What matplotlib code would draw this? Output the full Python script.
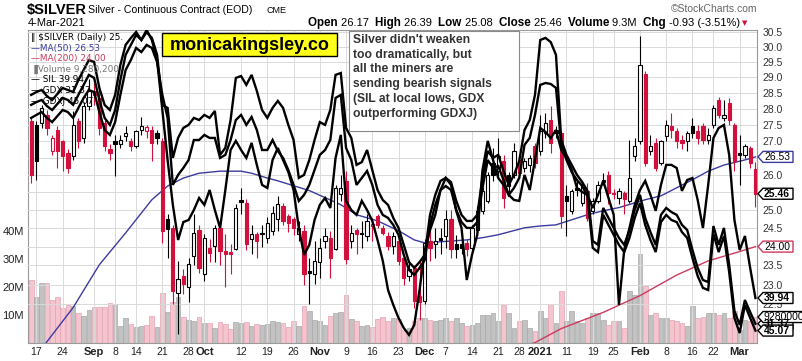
import numpy as np
import pandas as pd
import matplotlib
matplotlib.use("Agg")
import matplotlib.pyplot as plt
from matplotlib.patches import Rectangle, Polygon
from matplotlib.transforms import IdentityTransform
from matplotlib.ticker import NullLocator

W, H = 803, 361

# ---- data -------------------------------------------------------------
holidays = ["2020-09-07", "2020-11-26", "2020-12-25", "2021-01-01", "2021-01-18", "2021-02-15"]
dates = pd.bdate_range("2020-08-14", "2021-03-04")
dates = dates[~dates.isin(pd.to_datetime(holidays))]

opens = [27.61, 27.50, 27.55, 27.81, 26.70, 27.35, 26.99, 26.65, 26.55, 27.61,
         27.10, 28.07, 28.55, 28.33, 27.55, 26.75, 26.99, 26.90, 27.15, 26.99,
         26.85, 27.35, 27.30, 27.35, 27.25, 26.99, 24.75, 24.51, 22.80, 23.22,
         22.93, 23.75, 24.46, 23.27, 23.97, 24.02, 24.51, 23.88, 23.86, 23.93,
         25.27, 25.20, 24.20, 24.33, 24.38, 24.24, 24.42, 24.74, 25.11, 24.83,
         24.74, 24.33, 24.42, 23.35, 23.27, 23.58, 24.15, 24.24, 23.93, 25.44,
         25.82, 24.15, 24.46, 24.36, 24.28, 24.55, 24.83, 24.51, 24.28, 24.01,
         24.15, 23.70, 23.22, 23.44, 22.72, 22.59, 24.15, 24.06, 24.22, 24.28,
         24.74, 24.06, 24.06, 24.10, 23.97, 24.46, 24.97, 25.25, 26.35, 26.11,
         26.40, 26.01, 26.00, 26.45, 26.21, 26.30, 26.85, 26.70, 27.25, 27.66,
         27.35, 27.25, 25.39, 24.97, 25.63, 25.20, 25.53, 24.97, 25.25, 25.86,
         26.01, 25.49, 25.35, 25.49, 25.25, 26.55, 27.00, 29.10, 26.70, 26.95,
         26.35, 27.15, 27.45, 27.30, 27.05, 26.99, 27.45, 27.30, 27.45, 27.05,
         27.50, 28.28, 27.71, 28.18, 27.50, 26.65, 26.60, 26.80, 26.17]
highs = [27.71, 27.60, 28.10, 27.95, 27.20, 27.45, 27.05, 26.75, 27.92, 27.70,
         28.20, 28.95, 28.90, 28.60, 27.65, 26.90, 27.20, 27.20, 27.45, 27.10,
         27.35, 27.75, 27.50, 27.45, 27.35, 27.10, 24.90, 24.60, 23.62, 23.40,
         23.70, 24.88, 24.60, 24.35, 24.20, 24.60, 24.60, 24.33, 24.06, 25.16,
         25.63, 25.30, 24.60, 24.40, 24.60, 24.80, 25.10, 25.40, 25.20, 24.90,
         24.80, 24.70, 24.60, 23.70, 24.15, 24.24, 24.51, 24.42, 25.70, 26.01,
         26.11, 24.60, 24.51, 24.70, 24.88, 24.79, 24.90, 24.60, 24.40, 24.40,
         24.30, 23.80, 23.60, 23.50, 23.62, 24.20, 24.51, 24.51, 24.51, 25.00,
         25.00, 24.30, 24.20, 24.20, 24.60, 25.10, 25.65, 26.10, 26.80, 27.10,
         26.60, 26.10, 26.95, 26.60, 26.50, 26.60, 26.95, 27.81, 27.86, 28.07,
         27.45, 27.30, 25.72, 25.60, 25.82, 25.80, 25.77, 25.35, 25.82, 26.06,
         26.11, 25.60, 25.63, 25.53, 27.05, 27.10, 30.35, 29.20, 27.20, 27.10,
         27.05, 27.66, 27.86, 27.40, 27.20, 27.30, 27.71, 27.50, 27.55, 27.40,
         28.12, 28.38, 28.28, 28.33, 27.55, 27.20, 26.90, 26.85, 26.39]
lows = [25.77, 25.86, 27.40, 27.20, 26.60, 26.21, 26.11, 26.06, 26.45, 26.80,
        26.95, 27.95, 28.10, 27.20, 26.70, 26.45, 25.96, 26.80, 27.00, 26.70,
        26.80, 27.20, 27.10, 26.40, 26.90, 24.10, 23.70, 22.50, 21.77, 22.75,
        22.55, 23.50, 23.30, 23.10, 23.60, 23.60, 23.50, 22.93, 23.27, 23.90,
        24.88, 23.90, 23.80, 23.70, 24.00, 24.10, 24.30, 24.42, 24.60, 24.40,
        24.30, 24.15, 23.00, 22.51, 23.01, 23.18, 23.97, 23.18, 23.90, 25.25,
        23.53, 23.97, 23.79, 23.97, 24.15, 24.15, 24.50, 24.30, 23.90, 23.80,
        23.50, 23.00, 23.10, 22.40, 22.10, 22.50, 23.62, 23.70, 23.79, 23.97,
        23.70, 23.70, 23.80, 23.75, 23.90, 24.40, 24.90, 25.20, 25.82, 25.90,
        25.07, 25.50, 25.90, 25.95, 26.10, 26.10, 26.20, 26.60, 27.10, 26.65,
        27.10, 24.50, 24.28, 24.90, 25.40, 25.10, 24.70, 24.90, 25.20, 25.70,
        25.16, 25.30, 25.16, 24.88, 25.20, 26.40, 26.90, 26.25, 26.60, 26.11,
        26.30, 27.00, 27.10, 26.80, 26.75, 26.70, 27.10, 26.90, 26.90, 26.90,
        27.40, 27.70, 27.60, 27.50, 26.11, 25.72, 26.50, 26.20, 25.08]
closes = [26.01, 26.40, 28.02, 27.40, 27.10, 26.70, 26.55, 26.21, 27.50, 26.99,
          28.07, 28.55, 28.44, 27.40, 26.85, 26.65, 26.90, 27.05, 27.25, 26.85,
          27.30, 27.45, 27.42, 26.95, 27.10, 24.42, 24.47, 22.84, 23.14, 23.01,
          23.53, 24.38, 23.44, 24.24, 23.84, 24.51, 23.88, 23.80, 23.79, 25.07,
          25.22, 24.06, 24.33, 24.15, 24.33, 24.65, 24.93, 25.16, 24.70, 24.65,
          24.51, 24.51, 23.27, 23.30, 23.62, 23.97, 24.28, 23.70, 25.63, 25.63,
          23.66, 24.38, 24.33, 24.34, 24.70, 24.62, 24.60, 24.38, 24.01, 24.28,
          23.62, 23.18, 23.40, 22.59, 22.55, 24.10, 23.97, 24.15, 24.18, 24.74,
          23.93, 23.93, 23.97, 23.93, 24.51, 24.97, 25.53, 26.01, 26.01, 26.55,
          25.35, 25.67, 26.70, 26.06, 26.40, 26.50, 26.35, 27.30, 27.55, 26.95,
          27.25, 24.83, 25.25, 25.53, 25.58, 25.72, 24.79, 25.25, 25.72, 25.80,
          25.49, 25.44, 25.53, 25.30, 25.91, 26.85, 29.40, 26.35, 26.85, 26.21,
          26.99, 27.50, 27.35, 26.99, 26.95, 27.25, 27.25, 27.10, 27.05, 27.20,
          28.02, 27.81, 27.81, 27.66, 26.40, 26.60, 26.85, 26.35, 25.46]
volume_m = [22.5, 16.5, 21.3, 21.3, 15.2, 16.3, 12.4, 13.6, 13.2, 10.6,
            9.6, 11.8, 13.0, 12.7, 12.7, 14.4, 14.0, 6.1, 8.8, 6.8,
            5.6, 6.1, 6.4, 9.8, 5.8, 18.0, 11.0, 14.8, 16.3, 9.4,
            8.2, 8.0, 9.4, 7.3, 7.1, 5.3, 7.6, 6.8, 4.9, 7.6,
            7.3, 7.6, 6.1, 6.8, 6.4, 6.8, 8.0, 7.6, 7.0, 5.6,
            7.7, 6.0, 13.1, 11.3, 8.3, 7.7, 6.5, 9.5, 10.7, 11.0,
            17.3, 8.5, 7.7, 6.0, 6.5, 5.6, 8.5, 9.2, 7.7, 8.8,
            8.5, 4.8, 5.4, 7.7, 8.8, 8.8, 8.3, 7.7, 8.3, 8.8,
            7.7, 8.8, 7.1, 6.0, 6.5, 7.1, 10.1, 10.1, 10.7, 7.7,
            13.7, 10.7, 5.4, 7.7, 8.3, 5.4, 4.2, 11.3, 8.8, 13.9,
            7.1, 18.4, 7.7, 11.3, 7.7, 7.1, 8.8, 10.7, 10.7, 8.3,
            6.5, 7.7, 7.7, 5.4, 18.4, 17.3, 31.9, 20.2, 10.1, 10.7,
            8.8, 8.8, 8.3, 7.7, 7.1, 6.0, 13.1, 8.8, 9.4, 10.7,
            10.7, 10.1, 10.7, 8.8, 11.3, 4.8, 8.3, 7.7, 9.28]

ma50_idx = [0, 3, 8, 13, 18, 23, 26, 29, 32, 36, 40, 42, 45, 47, 53, 56, 59, 62, 66, 70,
            73, 75, 80, 83, 86, 89, 94, 97, 100, 103, 106, 109, 112, 117, 120, 123, 126,
            129, 132, 136, 138]
ma50_val = [21.0, 21.58, 22.42, 23.52, 24.37, 25.29, 25.68, 25.91, 26.05, 26.11, 26.11,
            26.05, 25.91, 25.83, 25.55, 25.35, 25.15, 24.87, 24.70, 24.43, 24.18, 24.10,
            24.15, 24.18, 24.24, 24.32, 24.51, 24.56, 24.59, 24.73, 24.87, 24.98, 25.07,
            25.29, 25.40, 25.63, 25.86, 26.11, 26.29, 26.44, 26.53]
ma200_idx = [92, 96, 101, 109, 116, 123, 129, 136, 138]
ma200_val = [21.40, 21.56, 21.90, 22.30, 22.72, 23.25, 23.62, 23.91, 24.00]

# overlays: daily closes, one value per trading day
sil = [49.08, 49.21, 49.30, 49.03, 48.85, 49.12, 49.39, 49.30, 49.21, 49.75,
       50.20, 50.65, 50.56, 49.39, 48.63, 48.40, 49.08, 50.43, 51.33, 51.64,
       51.91, 51.55, 52.00, 51.55, 50.65, 48.40, 46.15, 44.13, 42.55, 43.36,
       43.45, 43.90, 44.44, 44.13, 44.80, 43.90, 43.09, 44.80, 46.60, 47.01,
       46.60, 46.24, 46.92, 45.93, 45.03, 44.89, 46.15, 46.69, 46.15, 45.61,
       44.80, 43.09, 41.88, 42.33, 43.45, 44.13, 44.44, 43.99, 46.24, 47.28,
       44.31, 43.90, 43.68, 44.31, 43.90, 43.41, 42.55, 41.61, 40.30, 39.63,
       39.04, 38.59, 38.28, 38.73, 40.30, 42.10, 43.00, 43.68, 44.80, 45.34,
       45.03, 43.86, 43.09, 40.75, 41.88, 42.78, 45.70, 47.01, 46.15, 45.34,
       45.03, 44.58, 44.35, 44.31, 45.48, 44.80, 46.15, 47.59, 47.41, 47.14,
       47.50, 46.60, 46.24, 45.70, 44.89, 44.71, 44.58, 43.99, 44.58, 45.21,
       44.44, 43.68, 39.63, 42.10, 43.09, 44.13, 44.80, 45.21, 44.58, 43.86,
       45.03, 45.93, 45.93, 45.79, 44.76, 45.25, 45.34, 44.35, 43.09, 45.03,
       47.14, 47.59, 47.73, 46.38, 43.45, 42.10, 42.73, 41.29, 39.94]
gdx = [40.78, 40.90, 40.99, 40.73, 40.56, 40.82, 41.08, 40.99, 40.78, 41.21,
       41.64, 42.07, 41.94, 40.99, 40.22, 39.92, 40.56, 41.85, 42.93, 43.36,
       43.79, 43.57, 43.91, 43.66, 42.93, 40.78, 40.65, 38.50, 39.36, 39.79,
       39.92, 40.22, 40.13, 40.35, 40.22, 40.52, 38.63, 38.93, 40.13, 41.94,
       42.02, 41.64, 42.07, 41.38, 40.56, 40.22, 40.65, 40.95, 40.65, 39.92,
       39.27, 37.64, 37.77, 38.41, 39.27, 40.04, 39.92, 40.56, 42.07, 42.15,
       39.79, 39.36, 38.20, 38.32, 38.84, 37.98, 37.12, 36.69, 36.48, 35.92,
       35.49, 34.76, 34.02, 33.77, 34.02, 34.33, 36.05, 36.91, 37.51, 37.64,
       37.46, 36.65, 36.05, 35.79, 35.79, 36.05, 37.64, 38.80, 38.50, 38.63,
       37.94, 37.34, 37.77, 38.37, 39.70, 40.13, 41.21, 43.57, 43.66, 43.48,
       42.93, 39.27, 38.63, 38.20, 37.77, 37.46, 37.08, 34.93, 34.76, 36.35,
       35.92, 35.49, 35.06, 34.76, 35.40, 36.26, 36.91, 35.92, 35.31, 34.76,
       36.05, 36.35, 36.17, 36.05, 35.62, 35.40, 34.54, 33.77, 33.25, 33.16,
       35.57, 34.76, 35.49, 33.90, 31.92, 31.32, 32.39, 31.87, 31.37]
gdxj = [56.34, 56.50, 56.65, 56.34, 56.12, 56.44, 56.76, 56.65, 56.34, 56.87,
        57.40, 57.82, 57.71, 56.65, 55.70, 55.44, 56.12, 57.56, 58.88, 59.41,
        60.05, 59.83, 60.21, 60.05, 59.30, 57.56, 56.34, 52.79, 53.32, 53.69,
        54.11, 55.17, 55.17, 55.44, 55.28, 55.28, 54.22, 54.38, 55.17, 56.23,
        56.50, 55.97, 56.39, 55.70, 54.64, 54.64, 55.17, 54.59, 54.22, 53.58,
        52.79, 51.94, 52.26, 52.79, 53.58, 54.38, 54.64, 55.17, 57.40, 57.56,
        54.75, 54.11, 52.79, 53.16, 53.53, 52.79, 51.73, 51.20, 51.04, 50.67,
        50.14, 49.08, 48.28, 48.02, 48.39, 48.81, 50.67, 51.73, 52.52, 52.73,
        52.52, 51.46, 50.82, 50.51, 50.51, 50.82, 52.63, 54.11, 53.69, 53.79,
        53.05, 52.26, 52.63, 53.16, 54.91, 55.28, 56.50, 58.09, 58.19, 58.14,
        57.93, 54.91, 54.11, 53.47, 53.05, 52.73, 52.20, 49.45, 49.23, 51.20,
        50.67, 50.14, 49.61, 49.23, 49.98, 51.04, 51.83, 50.67, 49.87, 49.23,
        50.82, 51.20, 50.93, 50.82, 50.29, 49.98, 48.92, 47.96, 47.33, 47.22,
        50.19, 49.23, 50.08, 48.17, 45.74, 44.94, 46.43, 45.74, 45.07]

tick_days = ["2020-08-17", "2020-08-24", "2020-09-01", "2020-09-08", "2020-09-14", "2020-09-21",
             "2020-09-28", "2020-10-01", "2020-10-12", "2020-10-19", "2020-10-26", "2020-11-02",
             "2020-11-09", "2020-11-16", "2020-11-23", "2020-12-01", "2020-12-07", "2020-12-14",
             "2020-12-21", "2020-12-28", "2021-01-04", "2021-01-11", "2021-01-19", "2021-01-25",
             "2021-02-01", "2021-02-08", "2021-02-16", "2021-02-22", "2021-03-01"]
tick_labels = ["17", "24", "Sep", "8", "14", "21", "28", "Oct", "12", "19", "26", "Nov", "9",
               "16", "23", "Dec", "7", "14", "21", "28", "2021", "11", "19", "25", "Feb", "8",
               "16", "22", "Mar"]
price_ticks = [22.5, 23.0, 23.5, 24.0, 24.5, 25.0, 25.5, 26.0, 26.5, 27.0, 27.5, 28.0,
               28.5, 29.0, 29.5, 30.0, 30.5]
vol_ticks = [10, 20, 30, 40]

# ---- figure -----------------------------------------------------------
RED = "#d2103c"
FONT = "Liberation Sans"

def fx(px):
    return px / W

def fy(py):
    return 1 - py / H

fig = plt.figure(figsize=(W / 100, H / 100), dpi=100)
fig.patch.set_facecolor("white")
rect = [fx(28), fy(343), (757 - 28) / W, (343 - 30) / H]

x = np.arange(len(dates))
o = np.array(opens); c = np.array(closes); hi = np.array(highs); lo = np.array(lows)
prev = np.r_[o[0], c[:-1]]
down = c < prev
xlim = (-0.6, 138.3)
tick_pos = [dates.get_loc(pd.Timestamp(d)) for d in tick_days]

# volume (bottom layer, also carries the date axis)
axv = fig.add_axes(rect)
axv.bar(x, volume_m, width=0.9,
        color=np.where(down, "#f4c4cf", "#c2c2c2"),
        edgecolor=np.where(down, "#e6a2b2", "#a8a8a8"), linewidth=0.5)
axv.set_ylim(0, 111.8)
axv.set_xlim(*xlim)
axv.set_yticks(vol_ticks)
axv.set_yticklabels([f"{v}M" for v in vol_ticks], fontsize=8, family=FONT, color="#222")
axv.tick_params(axis="y", length=0, pad=3)
axv.set_xticks(tick_pos)
axv.set_xticklabels(tick_labels)
axv.tick_params(axis="x", length=0, pad=3)
for lab in axv.get_xticklabels():
    bold = not lab.get_text().isdigit() or lab.get_text() == "2021"
    lab.set_fontweight("bold" if bold else "normal")
    lab.set_fontsize(8 if bold else 7.5)
    lab.set_family(FONT)
    lab.set_color("#222")
axv.grid(axis="x", color="#dadada", lw=0.7)
for s in axv.spines.values():
    s.set_color("#9a9a9a")
    s.set_linewidth(0.8)

# price
ax = fig.add_axes(rect)
ax.patch.set_alpha(0)
ax.set_yscale("log")
ax.set_ylim(21.55, 30.57)
ax.yaxis.set_minor_locator(NullLocator())
ax.set_yticks(price_ticks)
ax.set_yticklabels([f"{t:.1f}" for t in price_ticks], fontsize=7.5, family=FONT, color="#333")
ax.yaxis.tick_right()
ax.tick_params(axis="y", length=0, pad=4)
ax.grid(axis="y", color="#dadada", lw=0.7, zorder=0)
ax.set_xticks([])
for s in ax.spines.values():
    s.set_visible(False)

ax.plot(ma50_idx, ma50_val, color="#3b3ba0", lw=1.0, zorder=2)
ax.plot(ma200_idx, ma200_val, color="#cc3a5e", lw=1.0, zorder=2)

col = np.where(down, RED, "black")
ax.vlines(x, lo, hi, colors=col, lw=0.8, zorder=3)
hollow = c >= o
body_lo = np.minimum(o, c)
body_h = np.maximum(np.abs(c - o), 0.02)
ax.bar(x, body_h, bottom=body_lo, width=0.62,
       color=np.where(hollow, "white", col), edgecolor=col, linewidth=0.8, zorder=4)
ax.set_xlim(*xlim)

# overlays on their own hidden scales
overlay_axes = []
for val, lim in [(sil, (37.915, 52.0)), (gdx, (30.541, 44.0)), (gdxj, (44.411, 61.0))]:
    a = fig.add_axes(rect)
    a.patch.set_alpha(0)
    a.plot(x, val, color="black", lw=1.7, solid_joinstyle="miter")
    a.set_ylim(*lim)
    a.set_xlim(*xlim)
    a.axis("off")
    overlay_axes.append(a)
ax_sil, ax_gdx, ax_gdxj = overlay_axes


# value tags at the right edge
def tag(a, val, txt, ec, bold=False, w=35):
    yd = a.transData.transform((0, val))[1]
    x0 = ax.transAxes.transform((1, 0))[0] + 1
    h = 5.5
    poly = Polygon([(x0, yd), (x0 + 5, yd + h), (x0 + w, yd + h), (x0 + w, yd - h),
                    (x0 + 5, yd - h)], closed=True, fc="white", ec=ec, lw=1.0,
                   transform=IdentityTransform(), zorder=5)
    fig.add_artist(poly)
    fig.text(x0 + 6, yd, txt, transform=IdentityTransform(), fontsize=7.5, family=FONT,
             fontweight="bold" if bold else "normal", va="center", ha="left",
             color="black", zorder=6)
    return yd


tag_y = [
    tag(ax, ma50_val[-1], f"{ma50_val[-1]:.2f}", "#3b3ba0"),
    tag(ax, closes[-1], f"{closes[-1]:.2f}", "black", bold=True),
    tag(ax, ma200_val[-1], f"{ma200_val[-1]:.2f}", "#cc3a5e"),
    tag(ax_sil, sil[-1], f"{sil[-1]:.2f}", "black", bold=True),
    tag(ax_gdx, gdx[-1], f"{gdx[-1]:.2f}", "black", bold=True),
    tag(axv, volume_m[-1], f"{volume_m[-1] * 1e6:.0f}", "black", w=50),
    tag(ax_gdxj, gdxj[-1], f"{gdxj[-1]:.2f}", "black", bold=True),
]

# price labels that sit fully under a tag are hidden, as in the reference
for t, lab in zip(price_ticks, ax.get_yticklabels()):
    yd = ax.transData.transform((0, t))[1]
    if min(abs(yd - ty) for ty in tag_y) < 6:
        lab.set_visible(False)

# ---- header -----------------------------------------------------------
fig.text(fx(27), fy(10), "$SILVER", fontsize=10.5, fontweight="bold", family=FONT, va="center")
fig.text(fx(88), fy(10), "Silver - Continuous Contract (EOD)", fontsize=7.6, family=FONT,
         va="center")
fig.text(fx(267), fy(10.5), "CME", fontsize=6.5, family=FONT, va="center")
fig.text(fx(28), fy(23), "4-Mar-2021", fontsize=8, family=FONT, va="center")
fig.text(fx(757), fy(9), "\u00a9StockCharts.com", fontsize=7.5, family=FONT, va="center",
         ha="right", color="#666")

pieces = [("Open ", True), ("26.17  ", False), ("High ", True), ("26.39  ", False),
          ("Low ", True), ("25.08  ", False), ("Close ", True), ("25.46  ", False),
          ("Volume ", True), ("9.3M  ", False), ("Chg ", True), ("-0.93 (-3.51%)", False)]
renderer = fig.canvas.get_renderer()
xp = 308
for txt, b in pieces:
    t = fig.text(fx(xp), fy(23), txt, fontsize=8.4 if b else 8, family=FONT,
                 fontweight="bold" if b else "normal", va="center")
    xp += t.get_window_extent(renderer).width
fig.text(fx(xp + 2), fy(23), "\u25bc", fontsize=5, color=RED, va="center")

# ---- legend -----------------------------------------------------------
legend = [("\u2016 $SILVER (Daily) 25.", "black"), ("\u2014MA(50) 26.53", "#3b3ba0"),
          ("\u2014MA(200) 24.00", "#cc3a5e"), ("\u2590Volume 9,280,200", "#777"),
          ("\u2014 SIL 39.94", "black"), ("\u2014 GDX 31.37", "black"),
          ("\u2014 GDXJ 45.07", "black")]
for k, (txt, cl) in enumerate(legend):
    fig.text(fx(31), fy(38 + k * 10.5), txt, fontsize=6.4, family="DejaVu Sans",
             color=cl, va="center")

# ---- annotation boxes -------------------------------------------------
fig.add_artist(Rectangle((fx(162), fy(56)), 175 / W, 23 / H, transform=fig.transFigure,
                         fc="#ffff1a", ec="black", lw=1.0, zorder=5))
fig.text(fx(249.5), fy(45), "monicakingsley.co", fontsize=13, fontweight="bold", family=FONT,
         ha="center", va="center", zorder=6)

fig.add_artist(Rectangle((fx(349), fy(131)), 170 / W, 100 / H, transform=fig.transFigure,
                         fc="white", ec="#8a8a8a", lw=0.8, zorder=5))
note = ("Silver didn't weaken\ntoo dramatically, but\nall the miners are\n"
        "sending bearish signals\n(SIL at local lows, GDX\noutperforming GDXJ)")
fig.text(fx(353), fy(34), note, fontsize=8.7, fontweight="bold", family=FONT,
         color="#333", va="top", ha="left", linespacing=1.3, zorder=6)

fig.savefig("out.png", dpi=100)
